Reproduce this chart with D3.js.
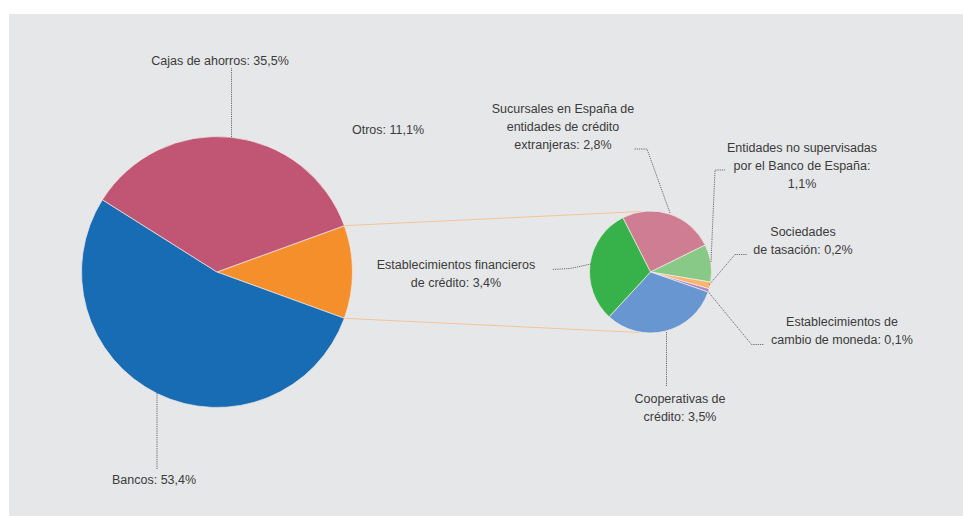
<!DOCTYPE html>
<html>
<head>
<meta charset="utf-8">
<script src="https://cdn.jsdelivr.net/npm/d3@7"></script>
<style>
  html, body { margin: 0; padding: 0; background: #ffffff; }
  svg { display: block; }
  text { font-family: "Liberation Sans", Arial, Helvetica, sans-serif; font-size: 12.5px; fill: #3b3b3b; }
</style>
</head>
<body>
<svg id="chart" width="963" height="516"></svg>
<script>
// Main breakdown (percent of total)
const mainNames  = ["Otros", "Bancos", "Cajas de ahorros"];
const mainValues = [11.1, 53.4, 35.5];
const mainColors = ["#f58f2b", "#176cb4", "#c05674"];

// Breakdown of "Otros" (percent of total)
const subNames  = [
  "Sucursales en España de entidades de crédito extranjeras",
  "Entidades no supervisadas por el Banco de España",
  "Sociedades de tasación",
  "Establecimientos de cambio de moneda",
  "Cooperativas de crédito",
  "Establecimientos financieros de crédito"
];
const subValues = [2.8, 1.1, 0.2, 0.1, 3.5, 3.4];
const subColors = ["#cf7d92", "#88c987", "#f8b66f", "#ad86c2", "#6896d0", "#37b24b"];

// Label text lines
const mainLabels = [
  ["Otros: 11,1%"],
  ["Bancos: 53,4%"],
  ["Cajas de ahorros: 35,5%"]
];
const subLabels = [
  ["Sucursales en España de", "entidades de crédito", "extranjeras: 2,8%"],
  ["Entidades no supervisadas", "por el Banco de España:", "1,1%"],
  ["Sociedades", "de tasación: 0,2%"],
  ["Establecimientos de", "cambio de moneda: 0,1%"],
  ["Cooperativas de", "crédito: 3,5%"],
  ["Establecimientos financieros", "de crédito: 3,4%"]
];

const svg = d3.select("#chart");
const W = 963, H = 516;
const deg = Math.PI / 180;

// panel background
svg.append("rect").attr("x", 9).attr("y", 14).attr("width", W - 9).attr("height", H - 14)
  .attr("fill", "#e6e7e9");

// ---- main pie ----
const big = { cx: 217, cy: 272, r: 135.5 };
const mainTotal = d3.sum(mainValues);
const otrosSpan = mainValues[0] / mainTotal * 2 * Math.PI;
const mainPie = d3.pie().sort(null)
  .startAngle(Math.PI / 2 - otrosSpan / 2)
  .endAngle(Math.PI / 2 - otrosSpan / 2 + 2 * Math.PI);
const mainArcs = mainPie(mainValues);
const bigArc = d3.arc().innerRadius(0).outerRadius(big.r);

// ---- sub pie ----
const small = { cx: 650.5, cy: 272, r: 61 };
const subStart = -27 * deg;
const subPie = d3.pie().sort(null).startAngle(subStart).endAngle(subStart + 2 * Math.PI);
const subArcs = subPie(subValues);
const smallArc = d3.arc().innerRadius(0).outerRadius(small.r);

// connectors from the "Otros" slice to the detail pie
const pt = (c, r, a) => [c.cx + r * Math.sin(a), c.cy - r * Math.cos(a)];
const o = mainArcs[0];
const conn = [
  [pt(big, big.r, o.startAngle), [small.cx - 9, small.cy - small.r + 0.5]],
  [pt(big, big.r, o.endAngle),   [small.cx - 11, small.cy + small.r - 0.5]]
];
svg.append("g").selectAll("line").data(conn).join("line")
  .attr("x1", d => d[0][0]).attr("y1", d => d[0][1])
  .attr("x2", d => d[1][0]).attr("y2", d => d[1][1])
  .attr("stroke", "#f4c597").attr("stroke-width", 1);

svg.append("g").attr("transform", `translate(${big.cx},${big.cy})`)
  .selectAll("path").data(mainArcs).join("path")
  .attr("d", bigArc)
  .attr("fill", (d, i) => mainColors[i])
  .attr("stroke", "#f3e9e6").attr("stroke-width", 0.7);

svg.append("g").attr("transform", `translate(${small.cx},${small.cy})`)
  .selectAll("path").data(subArcs).join("path")
  .attr("d", smallArc)
  .attr("fill", (d, i) => subColors[i])
  .attr("stroke", "#f3efe9").attr("stroke-width", 0.7);

// ---- leader lines ----
const leaders = svg.append("g")
  .attr("fill", "none").attr("stroke", "#4a4a4a")
  .attr("stroke-width", 0.8).attr("stroke-dasharray", "1.2,1");
const line = d3.line();
const mainLeaders = [
  null,
  [[157, 393], [157, 469]],
  [[231.5, 137], [231.5, 68]]
];
const subLeaders = [
  [[670, 213], [647, 149], [634, 149]],
  [[711, 262], [715, 170], [725, 170]],
  [[709, 285], [735, 254.5], [747, 254.5]],
  [[708, 291.5], [751.5, 344.5], [764, 344.5]],
  [[666.5, 332], [666.5, 386]],
  [[591, 264], [570, 268.5], [552, 269.5]]
];
leaders.selectAll("path.m").data(mainLeaders.filter(d => d)).join("path")
  .attr("class", "m").attr("d", line);
leaders.selectAll("path.s").data(subLeaders).join("path")
  .attr("class", "s").attr("d", line);

// ---- labels ----
const mainPos = [
  { x: 352, y: 134, anchor: "start" },
  { x: 112, y: 484, anchor: "start" },
  { x: 220, y: 65,  anchor: "middle" }
];
const subPos = [
  { x: 563, y: 112.5, anchor: "middle" },
  { x: 802, y: 151.5, anchor: "middle" },
  { x: 803, y: 236,   anchor: "middle" },
  { x: 842, y: 326,   anchor: "middle" },
  { x: 680, y: 403,   anchor: "middle" },
  { x: 456, y: 268.5, anchor: "middle" }
];
const lh = 18.3;
function drawLabels(labels, pos) {
  const g = svg.append("g");
  labels.forEach((lines, i) => {
    const t = g.append("text")
      .attr("x", pos[i].x).attr("y", pos[i].y)
      .attr("text-anchor", pos[i].anchor);
    lines.forEach((s, j) => {
      t.append("tspan").attr("x", pos[i].x).attr("dy", j === 0 ? 0 : lh).text(s);
    });
  });
}
drawLabels(mainLabels, mainPos);
drawLabels(subLabels, subPos);
</script>
</body>
</html>
